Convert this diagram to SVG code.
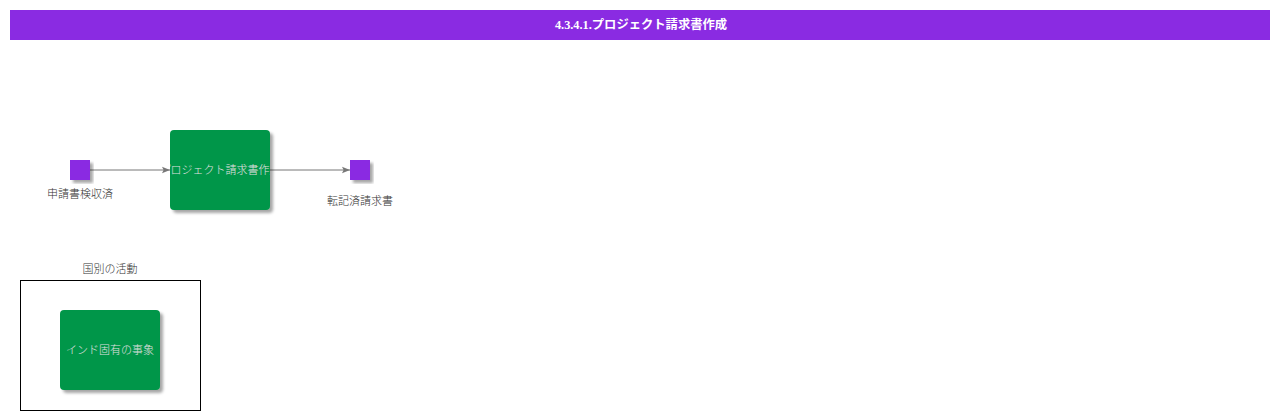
<svg xmlns="http://www.w3.org/2000/svg" width="1280" height="420" viewBox="0 0 1280 420">
<style>
.lbl{font-family:"Noto Sans CJK JP",sans-serif;font-weight:300;font-size:11px;fill:#333;text-anchor:middle}
.ntxt{font-family:"Noto Sans CJK JP",sans-serif;font-weight:300;font-size:11px;fill:#e0e0e0;text-anchor:middle}
.act{fill:#009649}
.ev{fill:#8a2be2}
.conn{stroke:#777;stroke-width:1;fill:none}
</style>
<defs>
<filter id="sh" x="-20%" y="-20%" width="140%" height="140%">
<feDropShadow dx="3" dy="3" stdDeviation="1.5" flood-color="#000" flood-opacity="0.35"/>
</filter>
<marker id="arr" viewBox="0 0 10 10" refX="10" refY="5" markerWidth="10" markerHeight="8" markerUnits="userSpaceOnUse" orient="auto">
<path d="M0,1 L10,5 L0,9 L2,5 Z" fill="#777"/>
</marker>
<clipPath id="c1"><rect x="170" y="130" width="100" height="80"/></clipPath>
<clipPath id="c2"><rect x="60" y="310" width="100" height="80"/></clipPath>
</defs>
<g id="title">
<rect x="10" y="10" width="1260" height="30" fill="#8a2be2"/>
<text x="641" y="29" text-anchor="middle" font-family="'Liberation Serif','Noto Sans CJK JP',serif" font-size="12.3" font-weight="bold" fill="#fff">4.3.4.1.プロジェクト請求書作成</text>
</g>
<g id="connectors">
<line class="conn" x1="90" y1="170" x2="170" y2="170" marker-end="url(#arr)"/>
<line class="conn" x1="270" y1="170" x2="350" y2="170" marker-end="url(#arr)"/>
</g>
<g id="start">
<rect class="ev" x="70" y="160" width="20" height="20" filter="url(#sh)"/>
<text class="lbl" x="80" y="198">申請書検収済</text>
</g>
<g id="task">
<rect class="act" x="170" y="130" width="100" height="80" rx="4" filter="url(#sh)"/>
<text class="ntxt" x="220" y="174" clip-path="url(#c1)">プロジェクト請求書作成</text>
</g>
<g id="end">
<rect class="ev" x="350" y="160" width="20" height="20" filter="url(#sh)"/>
<text class="lbl" x="360" y="205">転記済請求書</text>
</g>
<g id="group">
<text class="lbl" x="110" y="273">国別の活動</text>
<rect x="20.5" y="280.5" width="180" height="130" fill="none" stroke="#000" stroke-width="1"/>
</g>
<g id="india">
<rect class="act" x="60" y="310" width="100" height="80" rx="4" filter="url(#sh)"/>
<text class="ntxt" x="110" y="354" clip-path="url(#c2)">インド固有の事象</text>
</g>
</svg>
